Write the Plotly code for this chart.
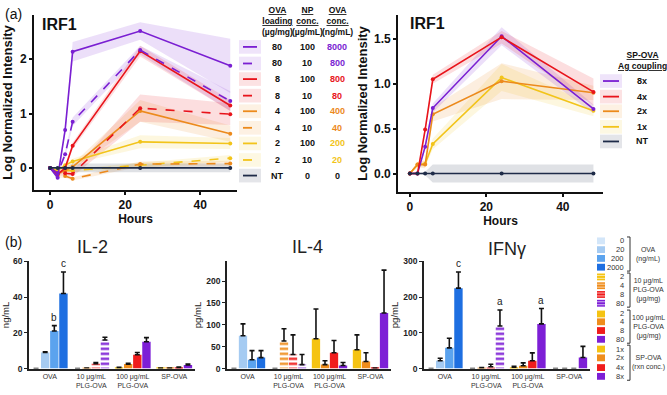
import plotly.graph_objects as go

W, H = 667, 395
def PX(x): return x / W
def PY(y): return 1 - y / H

FONT = "Liberation Sans, Arial, sans-serif"

# ---------------- Panel (a): IRF1 time courses ----------------
hours = [0, 2, 4, 6, 24, 48]

# PLG-OVA (left)
irf1_80_100 = [0, -0.18, 0.70, 2.14, 2.52, 1.88]
irf1_80_10 = [0, -0.10, 0.25, 0.85, 2.17, 1.23]
irf1_8_100 = [0, -0.12, 0.00, 0.41, 2.15, 1.15]
irf1_8_10 = [0, -0.10, -0.10, -0.11, 1.10, 0.99]
irf1_4_100 = [0, -0.10, -0.05, 0.02, 1.05, 0.63]
irf1_4_10 = [0, -0.15, -0.15, -0.20, 0.07, 0.08]
irf1_2_100 = [0, -0.05, 0.05, 0.12, 0.48, 0.45]
irf1_2_10 = [0, -0.10, -0.05, -0.05, 0.05, 0.18]
irf1_nt = [0, 0, 0, 0, 0, 0]

sd_80_100 = [0.02, 0.04, 0.08, 0.18, 0.16, 0.50]
sd_80_10 = [0.02, 0.04, 0.06, 0.08, 0.08, 0.18]
sd_8_100 = [0.02, 0.04, 0.05, 0.06, 0.10, 0.10]
sd_8_10 = [0.02, 0.04, 0.04, 0.05, 0.25, 0.20]
sd_4_100 = [0.02, 0.03, 0.04, 0.05, 0.20, 0.15]
sd_4_10 = [0.02, 0.03, 0.03, 0.03, 0.05, 0.05]
sd_2_100 = [0.02, 0.03, 0.04, 0.05, 0.12, 0.10]
sd_2_10 = [0.02, 0.03, 0.03, 0.03, 0.05, 0.06]
sd_nt = [0.00, 0.00, 0.02, 0.08, 0.08, 0.08]

loading_lbl = ["80", "80", "8", "8", "4", "4", "2", "2", "NT"]
npconc_lbl = ["100", "10", "100", "10", "100", "10", "100", "10", "0"]
ovaconc_lbl = ["8000", "800", "800", "80", "400", "40", "200", "20", "0"]

# SP-OVA (right)
sp_8x = [0, 0.00, 0.30, 0.73, 1.53, 0.72]
sp_4x = [0, 0.00, 0.49, 1.05, 1.52, 0.91]
sp_2x = [0, 0.10, 0.10, 0.66, 1.03, 0.90]
sp_1x = [0, 0.10, 0.11, 0.33, 1.07, 0.70]
sp_nt = [0, 0, 0, 0, 0, 0]

sdsp_8x = [0.01, 0.02, 0.04, 0.05, 0.10, 0.05]
sdsp_4x = [0.01, 0.02, 0.04, 0.05, 0.07, 0.15]
sdsp_2x = [0.01, 0.03, 0.04, 0.08, 0.20, 0.08]
sdsp_1x = [0.01, 0.03, 0.04, 0.06, 0.15, 0.06]
sdsp_nt = [0.00, 0.00, 0.02, 0.10, 0.10, 0.10]

sp_lbl = ["8x", "4x", "2x", "1x", "NT"]

# ---------------- Panel (b): cytokines ----------------
groups = ["OVA", "10 μg/mL<br>PLG-OVA", "100 μg/mL<br>PLG-OVA", "SP-OVA"]
# rows = groups (OVA, 10 ug/mL, 100 ug/mL, SP-OVA); columns = 4 doses
il2_mean = [[0, 9, 21, 42], [0, 0.3, 2.7, 16], [0.5, 2.5, 7.7, 15], [0.2, 0.2, 0.5, 2.0]]
il2_sd = [[0, 0.4, 3, 12], [0, 0, 0.6, 1.5], [0.2, 0.5, 1.3, 2.3], [0.1, 0.1, 0.3, 0.5]]
il4_mean = [[0, 75, 20, 25], [0, 63, 32, 9], [68, 9, 36, 7], [43, 16, 1, 127]]
il4_sd = [[0, 27, 21, 16], [0, 28, 45, 23], [68, 9, 28, 7], [34, 20, 0, 98]]
ifn_mean = [[0, 22, 58, 225], [0, 2, 5, 119], [4, 8, 22, 125], [0, 0, 0, 31]]
ifn_sd = [[0, 7, 27, 45], [0, 1, 7, 45], [2, 8, 22, 43], [0, 0, 0, 31]]
il2_letters = [(0, 2, "b"), (0, 3, "c")]
il4_letters = []
ifn_letters = [(0, 3, "c"), (1, 3, "a"), (2, 3, "a")]

ova_doses = ["0", "20", "200", "2000"]
plg_doses = ["2", "4", "8", "80"]
sp_doses = ["1x", "2x", "4x", "8x"]

# colours
PURPLE, RED, ORANGE, YELLOW, NAVY = "#7a1fd2", "#e8141b", "#ec8a1c", "#f2c41a", "#1e2b48"
def rgba(hexc, a):
    h = hexc.lstrip("#")
    return "rgba(%d,%d,%d,%.2f)" % (int(h[0:2], 16), int(h[2:4], 16), int(h[4:6], 16), a)

ova_colors = ["#d3e6f9", "#a5cbf2", "#5ba3ee", "#1e6fe1"]
np_colors = ["#f5c312", "#ef8d1c", "#f01c1c", "#7d1fd6"]
stripe_colors = ["#fbe7a0", "#f9cfa0", "#f9b0b0", "#d4b3f3"]

fig = go.Figure()

# ---- (a) left ----
left_series = [
    (irf1_80_100, sd_80_100, PURPLE, "solid"),
    (irf1_80_10, sd_80_10, PURPLE, "dash"),
    (irf1_8_100, sd_8_100, RED, "solid"),
    (irf1_8_10, sd_8_10, RED, "dash"),
    (irf1_4_100, sd_4_100, ORANGE, "solid"),
    (irf1_4_10, sd_4_10, ORANGE, "dash"),
    (irf1_2_100, sd_2_100, YELLOW, "solid"),
    (irf1_2_10, sd_2_10, YELLOW, "dash"),
    (irf1_nt, sd_nt, NAVY, "solid"),
]
band_alpha = 0.14
for vals, sd, col, dash in left_series:
    up = [v + s for v, s in zip(vals, sd)]
    lo = [v - s for v, s in zip(vals, sd)]
    fig.add_trace(go.Scatter(x=hours + hours[::-1], y=up + lo[::-1], fill="toself", mode="lines",
                             fillcolor=rgba(col, band_alpha), line=dict(width=0),
                             hoverinfo="skip", showlegend=False, xaxis="x", yaxis="y"))
for vals, sd, col, dash in left_series[:-1][::-1] + [left_series[-1]]:
    fig.add_trace(go.Scatter(x=hours, y=vals, mode="lines+markers",
                             line=dict(color=col, width=1.6, dash=dash),
                             marker=dict(size=4, color=col), showlegend=False,
                             xaxis="x", yaxis="y"))

# ---- (a) right ----
right_series = [
    (sp_1x, sdsp_1x, YELLOW),
    (sp_2x, sdsp_2x, ORANGE),
    (sp_8x, sdsp_8x, PURPLE),
    (sp_4x, sdsp_4x, RED),
    (sp_nt, sdsp_nt, NAVY),
]
for vals, sd, col in right_series:
    up = [v + s for v, s in zip(vals, sd)]
    lo = [v - s for v, s in zip(vals, sd)]
    fig.add_trace(go.Scatter(x=hours + hours[::-1], y=up + lo[::-1], fill="toself", mode="lines",
                             fillcolor=rgba(col, band_alpha), line=dict(width=0),
                             hoverinfo="skip", showlegend=False, xaxis="x2", yaxis="y2"))
for vals, sd, col in right_series:
    fig.add_trace(go.Scatter(x=hours, y=vals, mode="lines+markers",
                             line=dict(color=col, width=1.6),
                             marker=dict(size=4, color=col), showlegend=False,
                             xaxis="x2", yaxis="y2"))

# ---- (b) bars ----
BARGAP = 0.12
annotations = []
for k, (mean, sd, letters, xa, ya) in enumerate([
        (il2_mean, il2_sd, il2_letters, "x3", "y3"),
        (il4_mean, il4_sd, il4_letters, "x4", "y4"),
        (ifn_mean, ifn_sd, ifn_letters, "x5", "y5")]):
    for i in range(4):
        ys = [mean[g][i] for g in range(4)]
        es = [sd[g][i] for g in range(4)]
        cols = [ova_colors[i]] + [np_colors[i]] * 3
        shapes_p = ["", "-", "", ""]
        fgs = ["#ffffff", stripe_colors[i], "#ffffff", "#ffffff"]
        fig.add_trace(go.Bar(
            x=[0, 1, 2, 3], y=ys, xaxis=xa, yaxis=ya, showlegend=False,
            marker=dict(color=cols, line=dict(width=0),
                        pattern=dict(shape=shapes_p, fgcolor=fgs, size=5, solidity=0.45,
                                     fillmode="replace")),
            error_y=dict(type="data", symmetric=False, array=es, arrayminus=[0] * 4,
                         color="#111111", thickness=1.6, width=2.5)))
    w = (1 - BARGAP) / 4
    for g, i, t in letters:
        annotations.append(dict(x=g + (i - 1.5) * w, y=mean[g][i] + sd[g][i], xref=xa, yref=ya,
                                text=t, showarrow=False, yanchor="bottom", yshift=1,
                                font=dict(size=10, color="#222", family=FONT)))

# ---------------- layout ----------------
bold_tick = dict(family=FONT, size=12, color="#111", weight="bold")
axis_common = dict(showline=True, linecolor="#111", linewidth=1.8, ticks="outside",
                   ticklen=3, tickwidth=1.5, tickcolor="#111", showgrid=False, zeroline=False)
bar_x = dict(showline=True, linecolor="#222", linewidth=1.5, ticks="", showgrid=False,
             zeroline=False, tickvals=[0, 1, 2, 3], ticktext=groups, range=[-0.5, 3.5],
             tickfont=dict(family=FONT, size=7, color="#333"))
bar_y = dict(showline=True, linecolor="#222", linewidth=1.5, ticks="outside", ticklen=3,
             tickwidth=1.2, tickcolor="#222", showgrid=False, zeroline=False,
             tickfont=dict(family=FONT, size=8.5, color="#222", weight="bold"))
bar_ydom = [PY(373), PY(263)]
ytitle_font = dict(size=13, family=FONT, color="#111")

fig.update_layout(
    width=W, height=H, margin=dict(l=0, r=0, t=0, b=0), autosize=False,
    plot_bgcolor="white", paper_bgcolor="white", showlegend=False,
    barmode="group", bargap=BARGAP, bargroupgap=0.08,
    font=dict(family=FONT),
    xaxis=dict(axis_common, domain=[PX(34), PX(237)], range=[-4.3, 49.8],
               tickvals=[0, 20, 40], tickfont=bold_tick, anchor="y",
               title=dict(text="<b>Hours</b>", font=dict(size=12, family=FONT, color="#111"), standoff=0)),
    yaxis=dict(axis_common, domain=[PY(190), PY(10)], range=[-0.41, 2.82],
               tickvals=[0, 1, 2], tickfont=bold_tick, anchor="x",
               title=dict(text="<b>Log Normalized Intensity</b>", font=ytitle_font, standoff=5)),
    xaxis2=dict(axis_common, domain=[PX(398), PX(603)], range=[-3.1, 50.5],
                tickvals=[0, 20, 40], tickfont=bold_tick, anchor="y2",
                title=dict(text="<b>Hours</b>", font=dict(size=12, family=FONT, color="#111"), standoff=0)),
    yaxis2=dict(axis_common, domain=[PY(192), PY(10)], range=[-0.207, 1.77],
                tickvals=[0, 0.5, 1.0, 1.5], tickformat=".1f", tickfont=bold_tick, anchor="x2",
                title=dict(text="<b>Log Normalized Intensity</b>", font=ytitle_font, standoff=3)),
    xaxis3=dict(bar_x, domain=[PX(29), PX(195)], anchor="y3"),
    yaxis3=dict(bar_y, domain=bar_ydom, range=[0, 60], tickvals=[0, 20, 40, 60], anchor="x3",
                title=dict(text="ng/mL", font=dict(size=9.5, family=FONT, color="#222"), standoff=3)),
    xaxis4=dict(bar_x, domain=[PX(227), PX(391)], anchor="y4"),
    yaxis4=dict(bar_y, domain=bar_ydom, range=[0, 245], tickvals=[0, 50, 100, 150, 200], anchor="x4",
                title=dict(text="pg/mL", font=dict(size=9.5, family=FONT, color="#222"), standoff=3)),
    xaxis5=dict(bar_x, domain=[PX(424), PX(590)], anchor="y5"),
    yaxis5=dict(bar_y, domain=bar_ydom, range=[0, 300], tickvals=[0, 100, 200, 300], anchor="x5",
                title=dict(text="pg/mL", font=dict(size=9.5, family=FONT, color="#222"), standoff=3)),
)

shapes = []
def ann(x, y, text, size=9, color="#111", bold=False, xanchor="center", yanchor="middle", align="center"):
    annotations.append(dict(x=PX(x), y=PY(y), xref="paper", yref="paper", text=text, showarrow=False,
                            xanchor=xanchor, yanchor=yanchor, align=align,
                            font=dict(size=size, color=color, family=FONT, weight="bold" if bold else "normal")))

# panel labels and titles
ann(3, 9, "(a)", size=14, xanchor="left")
ann(3, 243, "(b)", size=14, xanchor="left")
ann(40, 20, "IRF1", size=16, bold=True, xanchor="left")
ann(408, 19, "IRF1", size=16, bold=True, xanchor="left")
ann(92, 248, "IL-2", size=18, color="#222")
ann(307, 248, "IL-4", size=18, color="#222")
ann(507, 250, "IFNγ", size=18, color="#222")

# legend table (a) left
ann(277, 16, "<u>OVA</u><br><u>loading</u><br>(µg/mg)", size=8.5, bold=True)
ann(307, 16, "<u>NP</u><br><u>conc.</u><br>(µg/mL)", size=8.5, bold=True)
ann(337, 16, "<u>OVA</u><br><u>conc.</u><br>(ng/mL)", size=8.5, bold=True)
row_y = [43, 60, 76, 93, 109, 126, 142, 159, 175]
for r, (vals, sd, col, dash) in enumerate(left_series):
    y = row_y[r]
    shapes.append(dict(type="rect", xref="paper", yref="paper", x0=PX(239), x1=PX(261),
                       y0=PY(y + 7), y1=PY(y - 7), fillcolor=rgba(col, 0.12), line=dict(width=0)))
    shapes.append(dict(type="line", xref="paper", yref="paper", x0=PX(243), x1=PX(257),
                       y0=PY(y), y1=PY(y), line=dict(color=col, width=1.8, dash="dash" if dash == "dash" else "solid")))
    ann(277, y, loading_lbl[r], size=9, bold=True)
    ann(307, y, npconc_lbl[r], size=9, bold=True)
    ann(337, y, ovaconc_lbl[r], size=9, bold=True, color=col if r < 8 else "#111")

# legend (a) right
ann(642, 57, "<u>SP-OVA</u><br><u>Ag coupling</u>", size=8.5, bold=True)
leg_r = [(PURPLE), (RED), (ORANGE), (YELLOW), (NAVY)]
row_y2 = [78, 94, 109, 125, 140]
for r, col in enumerate(leg_r):
    y = row_y2[r]
    shapes.append(dict(type="rect", xref="paper", yref="paper", x0=PX(600), x1=PX(622),
                       y0=PY(y + 7), y1=PY(y - 7), fillcolor=rgba(col, 0.12), line=dict(width=0)))
    shapes.append(dict(type="line", xref="paper", yref="paper", x0=PX(603), x1=PX(619),
                       y0=PY(y), y1=PY(y), line=dict(color=col, width=1.8)))
    ann(642, y, sp_lbl[r], size=9, bold=True)

# legend (b)
leg_rows = [242, 251, 260, 269, 279, 288, 297, 306, 317, 325, 334, 343, 353, 362, 372, 381]
leg_text = ova_doses + plg_doses + plg_doses + sp_doses
for j, y in enumerate(leg_rows):
    g, i = divmod(j, 4)
    col = ova_colors[i] if g == 0 else np_colors[i]
    shapes.append(dict(type="rect", xref="paper", yref="paper", x0=PX(597), x1=PX(605),
                       y0=PY(y + 3.5), y1=PY(y - 3.5), fillcolor=col, line=dict(width=0)))
    if g == 1:
        for dy in (-1.5, 1.5):
            shapes.append(dict(type="line", xref="paper", yref="paper", x0=PX(597), x1=PX(605),
                               y0=PY(y + dy), y1=PY(y + dy), line=dict(color=stripe_colors[i], width=1)))
    ann(626, y, leg_text[j], size=7.5, color="#333", xanchor="right")
grp_lbl = ["OVA<br>(ng/mL)", "10 μg/mL<br>PLG-OVA<br>(μg/mg)", "100 μg/mL<br>PLG-OVA<br>(μg/mg)", "SP-OVA<br>(rxn conc.)"]
for g in range(4):
    y0, y1 = leg_rows[4 * g] - 4, leg_rows[4 * g + 3] + 4
    shapes.append(dict(type="path", xref="paper", yref="paper",
                       path="M %f %f L %f %f L %f %f L %f %f" % (PX(627), PY(y0), PX(630), PY(y0), PX(630), PY(y1), PX(627), PY(y1)),
                       line=dict(color="#333", width=1)))
    ann(648, (y0 + y1) / 2, grp_lbl[g], size=7, color="#333")

fig.update_layout(annotations=annotations, shapes=shapes)
fig.write_html("out.html", config={"displayModeBar": False},
               post_script="document.body.style.margin='0';document.body.style.overflow='hidden';")
